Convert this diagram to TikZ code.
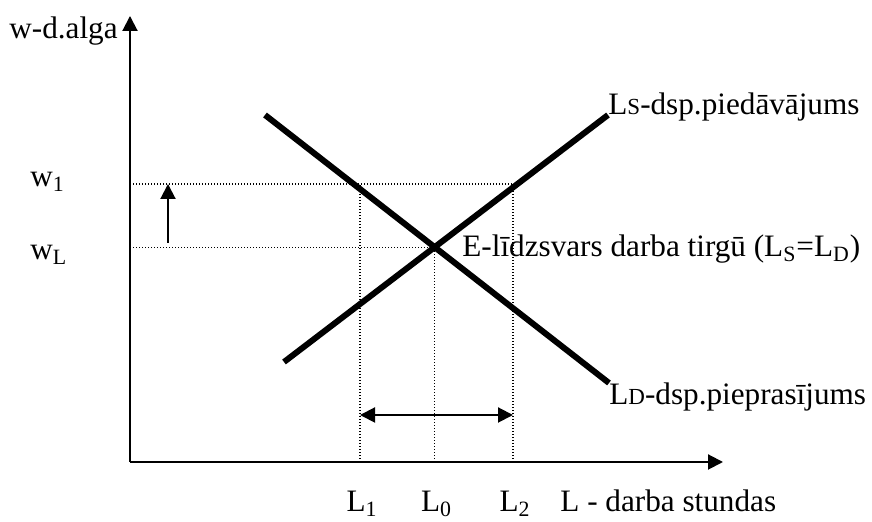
\documentclass[tikz,border=0pt]{standalone}
\usepackage{fontspec}
\setmainfont{Liberation Serif}
\usetikzlibrary{arrows.meta,calc}

\begin{document}
\begin{tikzpicture}[
        x=0.5pt, y=0.5pt,
        >={Triangle[length=7.5pt,width=7.5pt]},
        every node/.style={font=\fontsize{15.6}{18}\selectfont, inner sep=0pt},
        curve/.style={line width=3pt},
        axis/.style={line width=1pt,->},
        guide/.style={line width=0.6pt, dash pattern=on 0.6pt off 0.9pt},
        move/.style={line width=1pt}
      ]
        \useasboundingbox (0,0) rectangle (872,522);

        % Axes ----------------------------------------------------
        \coordinate (O)    at (130,60);
        \coordinate (ytip) at (130,506);
        \coordinate (xtip) at (723,60);

        \draw[axis] (O) -- (ytip);    % y-axis
        \draw[axis] (O) -- (xtip);    % x-axis

        % Axis labels
        \node[anchor=base west] (wlab) at (9,483) {w-d.alga};
        \node[anchor=base west] (Llab) at (560,10) {L - darba stundas};

        % Supply and demand ---------------------------------------
        \coordinate (S0) at (284,160);
        \coordinate (S1) at (608,407);
        \coordinate (D0) at (265,407);
        \coordinate (D1) at (609,139);

        \draw[curve] (S0) -- (S1);
        \draw[curve] (D0) -- (D1);

        \coordinate (E) at (intersection of S0--S1 and D0--D1);

        \node[anchor=base west] (Slab) at (S1)
          {L{\fontsize{11.5}{11}\selectfont S}-dsp.piedāvājums};
        \node[anchor=base west] (Dlab) at ($(D1)+(0,-22)$)
          {L{\fontsize{11.5}{11}\selectfont D}-dsp.pieprasījums};
        \node[anchor=base west] (Elab) at (462,265)
          {E-līdzsvars darba tirgū (L\textsubscript{S}=L\textsubscript{D})};

        % Wage levels ---------------------------------------------
        \coordinate (w1) at (130,338);  % raised wage
        \coordinate (L1) at (360,60);
        \coordinate (L2) at (513,60);

        \draw[guide] (w1) -- (w1 -| L2);
        \draw[guide] (O |- E) -- (E);
        \draw[guide] (L1) -- (L1 |- w1);
        \draw[guide] (L2) -- (L2 |- w1);
        \draw[guide] (E |- O) -- (E);

        \node[anchor=base west] (w1lab) at (30,335) {w\textsubscript{1}};
        \node[anchor=base west] (wLlab) at (30,262) {w\textsubscript{L}};

        \node[anchor=base] (L1lab) at (362,10) {L\textsubscript{1}};
        \node[anchor=base] (L0lab) at ($(E |- O)+(2,-50)$) {L\textsubscript{0}};
        \node[anchor=base] (L2lab) at (515,10) {L\textsubscript{2}};

        % Wage rise and labour surplus ----------------------------
        \coordinate (up0) at (168,279);
        \coordinate (gap) at (0,107);

        \draw[move,->] (up0) -- (up0 |- w1);
        \draw[move,<->] (L1 |- gap) -- (L2 |- gap);

      \end{tikzpicture}
\end{document}
